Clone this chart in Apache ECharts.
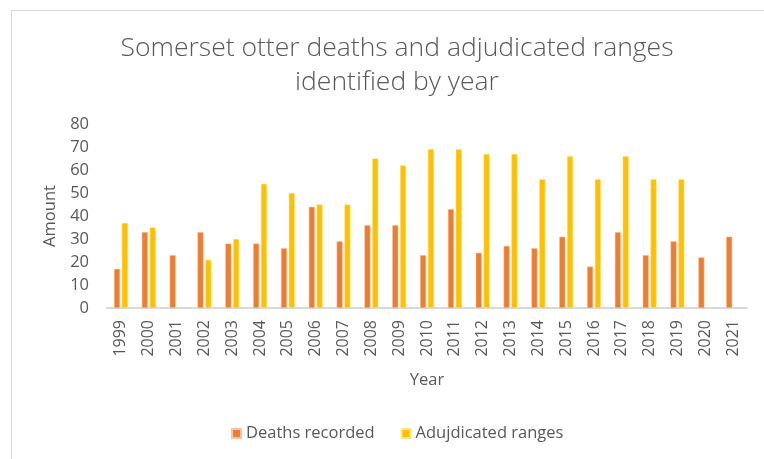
<!DOCTYPE html>
<html>
<head>
<meta charset="utf-8">
<script src="https://cdn.jsdelivr.net/npm/echarts@6/dist/echarts.min.js"></script>
<style>
html,body{margin:0;padding:0;background:#fff;}
#chart{width:764px;height:459px;}
</style>
</head>
<body>
<div id="chart"></div>
<script>
const years = ['1999','2000','2001','2002','2003','2004','2005','2006','2007','2008','2009','2010','2011','2012','2013','2014','2015','2016','2017','2018','2019','2020','2021'];
const deathsRecorded = [17,33,23,33,28,28,26,44,29,36,36,23,43,24,27,26,31,18,33,23,29,22,31];
const adjudicatedRanges = [37,35,null,21,30,54,50,45,45,65,62,69,69,67,67,56,66,56,66,56,56,null,null];
const yTicks = [0,10,20,30,40,50,60,70,80];

const FONT = '"Open Sans", "Liberation Sans", sans-serif';
const GREY = '#595959';

const chart = echarts.init(document.getElementById('chart'), null, {renderer:'canvas'});
chart.setOption({
  animation: false,
  backgroundColor: '#fff',
  title: {
    text: 'Somerset otter deaths and adjudicated ranges\nidentified by year',
    left: 392, top: 26, textAlign: 'center',
    textStyle: {fontFamily: FONT, fontSize: 26.5, fontWeight: 300, color: GREY, lineHeight: 34}
  },
  graphic: [
    {type:'line', shape:{x1:11, y1:10.5, x2:764, y2:10.5}, style:{stroke:'#d9d9d9', lineWidth:1}},
    {type:'line', shape:{x1:11.5, y1:10, x2:11.5, y2:459}, style:{stroke:'#d9d9d9', lineWidth:1}}
  ],
  legend: {
    bottom: 12, left: 226, itemWidth: 9, itemHeight: 9, itemGap: 26,
    textStyle: {fontFamily: FONT, fontSize: 16.5, color: GREY},
    data: [{name:'Deaths recorded', icon:'rect'}, {name:'Adujdicated ranges', icon:'rect'}]
  },
  grid: {left: 107, right: 17, top: 124, bottom: 151, containLabel: false},
  xAxis: {
    type: 'category', data: years, name: 'Year', nameLocation: 'middle', nameGap: 64,
    nameTextStyle: {fontFamily: FONT, fontSize: 16.5, color: GREY},
    axisLine: {lineStyle: {color: '#d9d9d9', width: 2}},
    axisTick: {show: false},
    axisLabel: {rotate: 90, fontFamily: FONT, fontSize: 16, color: GREY, margin: 12, interval: 0}
  },
  yAxis: {
    type: 'value', min: yTicks[0], max: yTicks[yTicks.length-1], interval: 10,
    name: 'Amount', nameLocation: 'middle', nameGap: 46,
    nameTextStyle: {fontFamily: FONT, fontSize: 16.5, color: GREY},
    axisLine: {show: false}, axisTick: {show: false}, splitLine: {show: false},
    axisLabel: {fontFamily: FONT, fontSize: 16.5, color: GREY, margin: 18}
  },
  series: [
    {name: 'Deaths recorded', type: 'bar', data: deathsRecorded, barWidth: 6, barGap: '30%',
     itemStyle: {color: '#ED7D31', borderColor: '#f6c4a4', borderWidth: 0.5}},
    {name: 'Adujdicated ranges', type: 'bar', data: adjudicatedRanges, barWidth: 6, barGap: '30%',
     itemStyle: {color: '#FFC000', borderColor: '#ffe58a', borderWidth: 0.5}}
  ]
});
</script>
</body>
</html>
